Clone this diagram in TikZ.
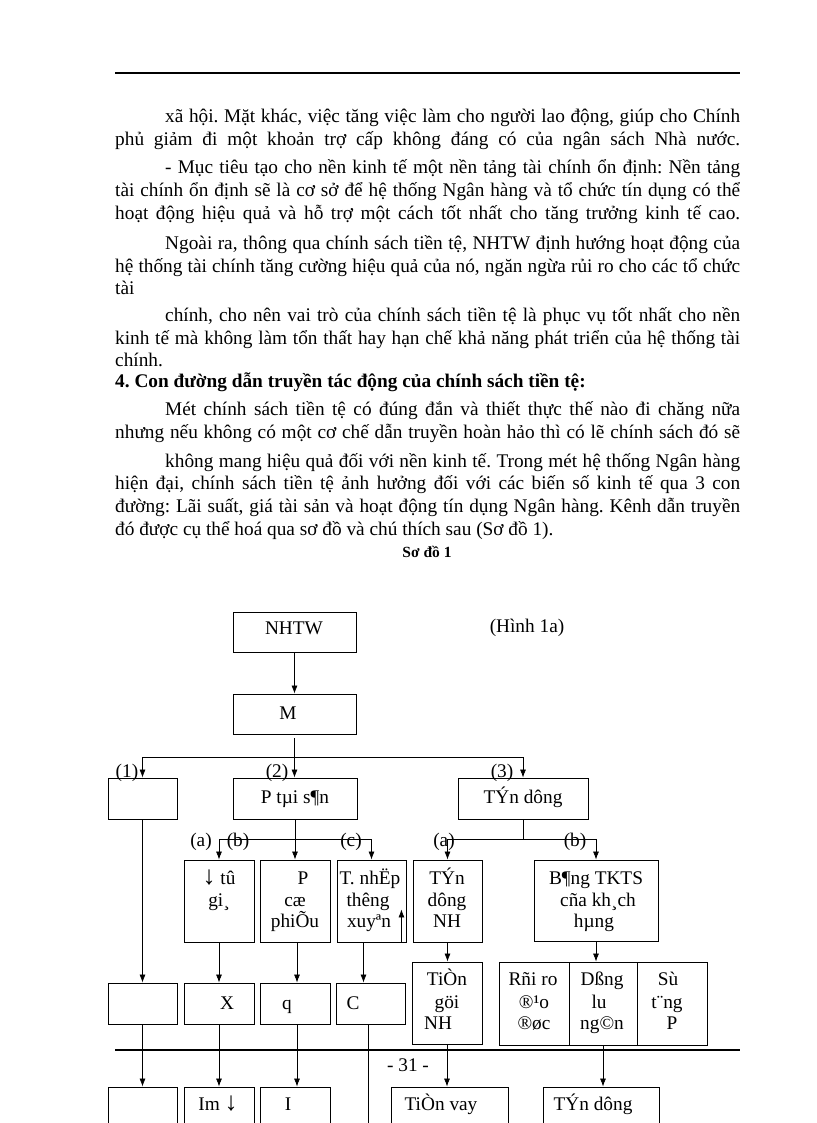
\documentclass[tikz,border=0pt]{standalone}
\usepackage{fontspec}
\usepackage{graphicx}
\setmainfont{Liberation Serif}
\usetikzlibrary{arrows.meta,fit}
\frenchspacing
\newlength{\jlw}
\newcommand{\jl}[2]{\settowidth{\jlw}{#2}\ifdim\jlw>#1\resizebox{#1}{!}{#2}\else\makebox[#1][s]{#2}\fi}
\newcommand{\bigarr}[1]{\scalebox{1.35}{#1}}
\begin{document}
\begin{tikzpicture}[x=1pt,y=-1pt,
  box/.style={draw,line width=0.9pt,inner sep=0pt,rectangle},
  ln/.style={line width=0.7pt},
  arr/.style={line width=0.7pt,-{Latex[length=8pt,width=6pt]}},
  body/.style={anchor=base west,inner sep=0pt,font=\fontsize{19.3}{22}\selectfont},
  dt/.style={anchor=base,inner sep=0pt,font=\fontsize{19.3}{22}\selectfont},
  rulestyle/.style={line width=2.2pt}]
\useasboundingbox (0,0) rectangle (816,1123);
\fill[white] (0,0) rectangle (816,1123);
% top rule
\coordinate (rl) at (115,73); \coordinate (rr) at (740,73);
\draw[rulestyle] (rl) -- (rr);
% body text
\node[body] (l1) at (165,123) {\jl{575pt}{xã hội. Mặt khác, việc tăng việc làm cho người lao động, giúp cho Chính}};
\node[body] (l2) at (115,146) {\jl{625pt}{phủ giảm đi một khoản trợ cấp không đáng có của ngân sách Nhà nước.}};
\node[body] (l3) at (165,174) {\jl{575pt}{- Mục tiêu tạo cho nền kinh tế một nền tảng tài chính ổn định: Nền tảng}};
\node[body] (l4) at (115,197) {\jl{625pt}{tài chính ổn định sẽ là cơ sở để hệ thống Ngân hàng và tổ chức tín dụng có thể}};
\node[body] (l5) at (115,220) {\jl{625pt}{hoạt động hiệu quả và hỗ trợ một cách tốt nhất cho tăng trưởng kinh tế cao.}};
\node[body] (l6) at (165,249) {\jl{575pt}{Ngoài ra, thông qua chính sách tiền tệ, NHTW định hướng hoạt động của}};
\node[body] (l7) at (115,272) {\jl{625pt}{hệ thống tài chính tăng cường hiệu quả của nó, ngăn ngừa rủi ro cho các tổ chức}};
\node[body] (l8) at (115,294) {tài};
\node[body] (l9) at (165,321) {\jl{575pt}{chính, cho nên vai trò của chính sách tiền tệ là phục vụ tốt nhất cho nền}};
\node[body] (l10) at (115,344) {\jl{625pt}{kinh tế mà không làm tổn thất hay hạn chế khả năng phát triển của hệ thống tài}};
\node[body] (l11) at (115,366) {chính.};
\node[body,font=\fontsize{19.3}{22}\selectfont\bfseries] (l12) at (115,387) {4. Con đường dẫn truyền tác động của chính sách tiền tệ:};
\node[body] (l13) at (165,415) {\jl{575pt}{Mét chính sách tiền tệ có đúng đắn và thiết thực thế nào đi chăng nữa}};
\node[body] (l14) at (115,438) {\jl{625pt}{nhưng nếu không có một cơ chế dẫn truyền hoàn hảo thì có lẽ chính sách đó sẽ}};
\node[body] (l15) at (165,467) {\jl{575pt}{không mang hiệu quả đối với nền kinh tế. Trong mét hệ thống Ngân hàng}};
\node[body] (l16) at (115,489) {\jl{625pt}{hiện đại, chính sách tiền tệ ảnh hưởng đối với các biến số kinh tế qua 3 con}};
\node[body] (l17) at (115,512) {\jl{625pt}{đường: Lãi suất, giá tài sản và hoạt động tín dụng Ngân hàng. Kênh dẫn truyền}};
\node[body] (l18) at (115,535) {đó được cụ thể hoá qua sơ đồ và chú thích sau (Sơ đồ 1).};
\node[anchor=base,inner sep=0pt,font=\fontsize{15.5}{18}\selectfont\bfseries] (sd) at (427,557) {Sơ đồ 1};
% boxes
\node[box,fit={(233,612) (356,652)}] (nhtw) {};
\node[box,fit={(233,694) (356,734)}] (m) {};
\node[box,fit={(108,778) (177,819)}] (b1) {};
\node[box,fit={(233,778) (357,819)}] (pts) {};
\node[box,fit={(458,778) (588,819)}] (td) {};
\node[box,fit={(184,860) (254,942)}] (ba) {};
\node[box,fit={(260,860) (330,942)}] (bb) {};
\node[box,fit={(337,860) (406,942)}] (bc) {};
\node[box,fit={(413,860) (482,942)}] (tdnh) {};
\node[box,fit={(534,860) (658,941)}] (bang) {};
\node[box,fit={(108,983) (177,1024)}] (b1b) {};
\node[box,fit={(184,983) (254,1024)}] (xb) {};
\node[box,fit={(260,983) (330,1024)}] (qb) {};
\node[box,fit={(336,983) (405,1024)}] (cb) {};
\node[box,fit={(412,962) (482,1044)}] (tg) {};
\node[box,fit={(499,962) (569,1045)}] (r1) {};
\node[box,fit={(569,962) (637,1045)}] (r2) {};
\node[box,fit={(637,962) (707,1045)}] (r3) {};
\node[box,fit={(108,1087) (177,1140)}] (b1c) {};
\node[box,fit={(184,1087) (254,1140)}] (im) {};
\node[box,fit={(260,1087) (330,1140)}] (ii) {};
\node[box,fit={(391,1087) (508,1140)}] (tv) {};
\node[box,fit={(543,1087) (659,1140)}] (tdl) {};
% box texts
\node[dt] (t1) at (294,634) {NHTW};
\node[dt] (t2) at (527,632) {(Hình 1a)};
\node[dt] (t3) at (288,719) {M};
\node[dt] (t4) at (295,803) {P tµi s¶n};
\node[dt] (t5) at (523,803) {TÝn dông};
\node[dt] (n1) at (127,777) {(1)};
\node[dt] (n2) at (277,777) {(2)};
\node[dt] (n3) at (502,777) {(3)};
\node[dt] (a1) at (201,846) {(a)};
\node[dt] (b2) at (238,846) {(b)};
\node[dt] (c1) at (351,846) {(c)};
\node[dt] (a2) at (444,846) {(a)};
\node[dt] (b3) at (575,846) {(b)};
\node[dt] (t6) at (219,884) {\bigarr{↓} tû};
\node[dt] (t7) at (219,906) {gi¸};
\node[dt] (t8) at (303,884) {P};
\node[dt] (t9) at (295,906) {cæ};
\node[dt] (t10) at (295,927) {phiÕu};
\node[dt] (t11) at (370,884) {T. nhËp};
\node[dt] (t12) at (368,906) {thêng};
\node[dt] (t13) at (369,927) {xuyªn};
\node[dt] (t14) at (447,884) {TÝn};
\node[dt] (t15) at (447,906) {dông};
\node[dt] (t16) at (447,927) {NH};
\node[dt] (t17) at (596,884) {B¶ng TKTS};
\node[dt] (t18) at (598,906) {cña kh¸ch};
\node[dt] (t19) at (594,927) {hµng};
\node[dt] (t20) at (227,1009) {X};
\node[dt] (t21) at (287,1009) {q};
\node[dt] (t22) at (353,1009) {C};
\node[dt] (t23) at (447,985) {TiÒn};
\node[dt] (t24) at (447,1008) {göi};
\node[dt] (t25) at (438,1029) {NH};
\node[dt] (t26) at (533,985) {Rñi ro};
\node[dt] (t27) at (534,1008) {®¹o};
\node[dt] (t28) at (534,1029) {®øc};
\node[dt] (t29) at (602,985) {Dßng};
\node[dt] (t30) at (599,1008) {lu};
\node[dt] (t31) at (602,1029) {ng©n};
\node[dt] (t32) at (668,985) {Sù};
\node[dt] (t33) at (667,1008) {t¨ng};
\node[dt] (t34) at (672,1029) {P};
\node[dt] (t35) at (218,1110) {Im \bigarr{↓}};
\node[dt] (t36) at (288,1110) {I};
\node[dt] (t37) at (441,1110) {TiÒn vay};
\node[dt] (t38) at (593,1110) {TÝn dông};
% connectors
\draw[arr] (nhtw.south) -- (m.north);
\coordinate (j0) at (294.5,757);
\draw[ln] ([yshift=-4pt]m.south) -- (j0);
\draw[ln] (j0 -| b1.north) -- (j0 -| td.north);
\draw[arr] (j0 -| b1.north) -- (b1.north);
\draw[arr] (j0) -- (j0 |- pts.north);
\draw[arr] (j0 -| td.north) -- (td.north);
\coordinate (j1) at (295,839);
\draw[ln] (pts.south -| j1) -- (j1);
\draw[ln] (j1 -| ba.north) -- (j1 -| bc.north);
\draw[arr] (j1 -| ba.north) -- (ba.north);
\draw[arr] (j1) -- (j1 |- bb.north);
\draw[arr] (j1 -| bc.north) -- (bc.north);
\coordinate (j2) at (523,839);
\draw[ln] (td.south -| j2) -- (j2);
\draw[ln] (j2 -| tdnh.north) -- (j2 -| bang.north);
\draw[arr] (j2 -| tdnh.north) -- (tdnh.north);
\draw[arr] (j2 -| bang.north) -- (bang.north);
\draw[arr] (b1.south) -- (b1b.north);
\draw[arr] (ba.south) -- (xb.north);
\draw[arr] ([xshift=2pt]bb.south) -- ([xshift=2pt]qb.north);
\draw[arr] ([xshift=-8pt]bc.south) -- ([xshift=-8pt]bc.south |- cb.north);
\draw[arr] (tdnh.south) -- (tdnh.south |- tg.north);
\draw[arr] (bang.south) -- (bang.south |- r2.north);
\draw[arr] ([xshift=-5pt]bc.south east) -- ([xshift=-5pt,yshift=33pt]bc.south east);
\draw[arr] (b1b.south) -- (b1c.north);
\draw[arr] (xb.south) -- (im.north);
\draw[arr] ([xshift=2pt]qb.south) -- ([xshift=2pt]ii.north);
\draw[arr] (tg.south) -- (tg.south |- tv.north);
\draw[arr] (r2.south) -- (r2.south |- tdl.north);
\coordinate (cend) at (368,1130);
\draw[ln] (cb.south -| cend) -- (cend);
% page footer rule and number
\coordinate (fl) at (115,1050); \coordinate (fr) at (740,1050);
\draw[rulestyle] (fl) -- (fr);
\node[dt] (pg) at (408,1071) {- 31 -};
\end{tikzpicture}
\end{document}
